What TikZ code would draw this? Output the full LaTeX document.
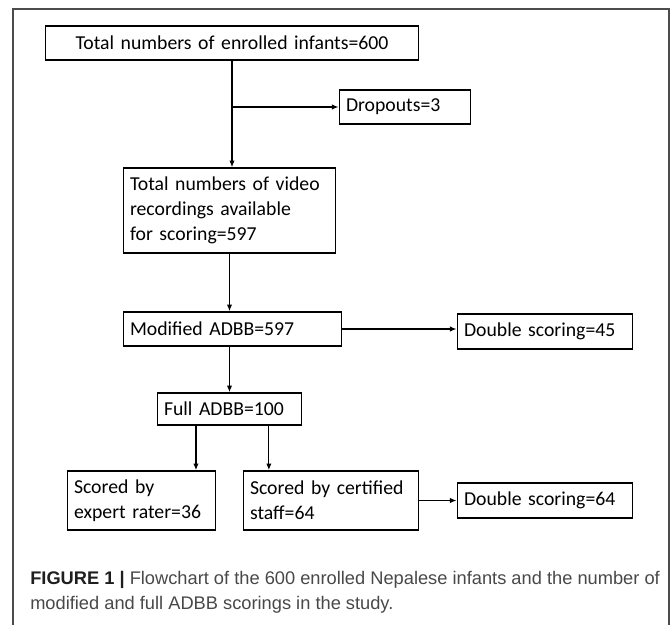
\documentclass[tikz,border=0pt]{standalone}
\usepackage{fontspec}
\setmainfont{Carlito}
\newfontfamily\capfont{Liberation Sans}
\usetikzlibrary{calc,arrows.meta}
\definecolor{capgray}{RGB}{72,72,72}
\definecolor{capdark}{RGB}{30,30,30}

\begin{document}
\begin{tikzpicture}[x=0.75pt,y=-0.75pt,
  flowbox/.style={draw,rectangle,line width=1.1pt,inner xsep=5pt,inner ysep=1pt,align=left,
    font=\fontsize{14.8}{18.75}\selectfont},
  flowline/.style={-{Latex[length=5pt,width=4pt]},line width=0.9pt}]
 \useasboundingbox (0,0) rectangle (672,625);
 \draw [line width=0.8pt,black!70] (13,625) -- (13,9) -- (669,9) -- (669,625);

 % boxes
 \node [flowbox,align=center,text width=270pt,minimum height=25.5pt] (enrolled) at (232,43) {Total numbers of enrolled infants=600};
 \node [flowbox,text width=88.5pt,minimum height=25.5pt] (dropout) at (405,107) {Dropouts=3};
 \node [flowbox,text width=149.25pt,minimum height=63.75pt] (video) at (229.5,210.5)
   {Total numbers of video\\recordings available\\for scoring=597};
 \node [flowbox,text width=153.75pt,minimum height=25.5pt] (modified) at (232.5,329) {Modified ADBB=597};
 \node [flowbox,text width=121.5pt,minimum height=26.25pt] (dblA) at (545,331.5) {Double scoring=45};
 \node [flowbox,text width=98.25pt,minimum height=24pt] (full) at (229.5,409) {Full ADBB=100};
 \node [flowbox,text width=101.25pt,minimum height=44.25pt] (expert) at (141.5,500.5) {Scored by\\expert rater=36};
 \node [flowbox,text width=121.5pt,minimum height=44.25pt] (certified) at (331,500.5) {Scored by certified\\staff=64};
 \node [flowbox,text width=121.5pt,minimum height=26.25pt] (dblB) at (545,500.5) {Double scoring=64};

 % connectors
 \coordinate (split) at (enrolled.south |- dropout.west);
 \draw [line width=0.9pt] (enrolled.south) -- (split);
 \draw [flowline] (split) -- (dropout.west);
 \draw [flowline] (split) -- (split |- video.north);
 \draw [flowline] (video.south) -- (video.south |- modified.north);
 \draw [flowline] (modified.east) -- (modified.east -| dblA.west);
 \draw [flowline] (modified.south -| full.north) -- (full.north);
 \coordinate (fullL) at ($(full.south west)!0.27!(full.south east)$);
 \coordinate (fullR) at ($(full.south west)!0.77!(full.south east)$);
 \draw [flowline] (fullL) -- (fullL |- expert.north);
 \draw [flowline] (fullR) -- (fullR |- certified.north);
 \draw [flowline] (certified) -- (dblB);

 \node [anchor=north west,align=left,inner sep=0pt,text=capgray,
   font=\capfont\fontsize{13.7}{18.5}\selectfont] (caption) at (30,571)
   {{\bfseries\color{capdark}FIGURE 1 |} Flowchart of the 600 enrolled Nepalese infants and the number of\\modified and full ADBB scorings in the study.};
\end{tikzpicture}
\end{document}
